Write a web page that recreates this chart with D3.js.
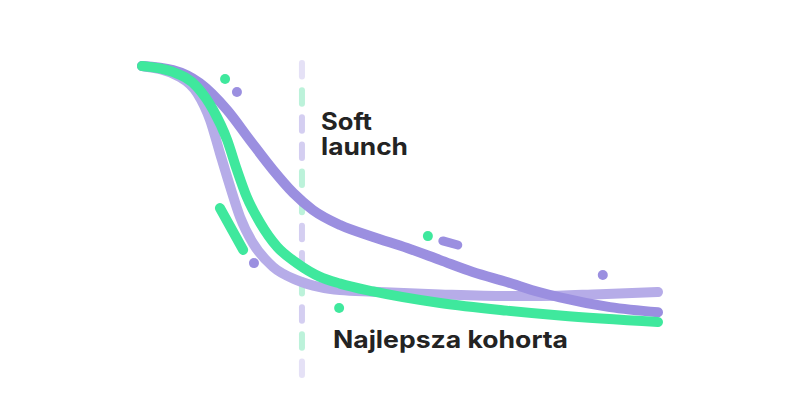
<!DOCTYPE html>
<html>
<head>
<meta charset="utf-8">
<script src="https://cdn.jsdelivr.net/npm/d3@7"></script>
<style>
  body { margin: 0; background: #fff; }
  svg { display: block; }
  text { font-family: Inter, "Open Sans", sans-serif; font-weight: 700; fill: #232323; }
</style>
</head>
<body>
<script>
// retention curves, x = time (0..100), y = retention %
let darkPurple = [[0,100],[6,98.5],[11.2,93.7],[16.5,83.7],[20.9,72.6],[25.4,61.5],[29.3,53],[33.1,46.7],[38.4,41.1],[44.8,36.7],[51.4,32.6],[57.8,28.1],[64.1,23.7],[70.7,20],[77.1,16.2],[81,14.3],[90.7,10.7],[100,8.8]]
let lightPurple = [[0,100],[7.4,95.9],[10.7,90],[13.2,80],[15.1,67.8],[17.1,55.2],[19,44.1],[21.5,34.4],[25.4,25.6],[30,20.7],[34.5,18.1],[38.4,17],[44.8,16.4],[57.8,15.4],[70.7,14.8],[77.1,14.8],[88.8,15.5],[100,16.3]]
let green = [[0,100],[6,97.8],[10.7,92.2],[13.8,83.7],[16.5,72.6],[18.4,61.5],[20.3,51.5],[22.9,41.9],[26.2,33],[30,27],[34.5,21.9],[38.4,19.4],[44.8,16.5],[57.8,12.2],[70.7,9.4],[81,7.6],[100,5.2]]

// soft launch marker
let launchX = 31
let dashColors = ["p","g","p","p","g","g","p","p","g","p","g","p"]

// decorative dots and short strokes
let dots = [
    {x:16.1, y:95.2, c:"g"},
    {x:18.4, y:90.4, c:"p"},
    {x:21.7, y:27, c:"p"},
    {x:55.4, y:37, c:"g"},
    {x:89.3, y:22.6, c:"p"},
    {x:38.2, y:10.4, c:"g"}
]
let strokes = [
    {x1:15.1, y1:47.4, x2:19.6, y2:31.9, c:"g"},
    {x1:58.3, y1:35.2, x2:61.2, y2:33.7, c:"p"}
]

let softLabel = ["Soft", "launch"]
let cohortLabel = "Najlepsza kohorta"

let width = 800, height = 420
let colors = {g:"#3fe89d", p:"#9b8fe0", lp:"#b6ace8"}
let dashFill = {g:"#bcf2da", p:"#d4cef1"}

let svg = d3.select("body").append("svg")
    .attr("width", width)
    .attr("height", height)

let scaleX = d3.scaleLinear().domain([0, 100]).range([142, 658])
let scaleY = d3.scaleLinear().domain([0, 100]).range([336, 66])

// przerywana linia pionowa
let scaleDash = d3.scaleBand()
    .domain(d3.range(dashColors.length))
    .range([60, 372])
    .paddingInner(0.5)
svg.append("g")
    .selectAll("line")
    .data(dashColors)
    .enter()
    .append("line")
    .attr("x1", scaleX(launchX))
    .attr("x2", scaleX(launchX))
    .attr("y1", (d, i) => scaleDash(i) + 3)
    .attr("y2", (d, i) => scaleDash(i) + scaleDash.bandwidth() + 3)
    .attr("stroke", d => dashFill[d])
    .attr("stroke-width", 6)
    .attr("stroke-linecap", "round")
    .attr("opacity", (d, i) => i == 0 || i == dashColors.length - 1 ? 0.6 : 1)

let line = d3.line()
    .x(d => scaleX(d[0]))
    .y(d => scaleY(d[1]))
    .curve(d3.curveMonotoneX)

function drawCurve(data, color) {
    svg.append("path")
        .datum(data)
        .attr("d", line)
        .attr("fill", "none")
        .attr("stroke", color)
        .attr("stroke-width", 10)
        .attr("stroke-linecap", "round")
}

drawCurve(lightPurple, colors.lp)
drawCurve(darkPurple, colors.p)
drawCurve(green, colors.g)

svg.selectAll(".dot")
    .data(dots)
    .enter()
    .append("circle")
    .attr("cx", d => scaleX(d.x))
    .attr("cy", d => scaleY(d.y))
    .attr("r", 5)
    .attr("fill", d => colors[d.c])

svg.selectAll(".stroke")
    .data(strokes)
    .enter()
    .append("line")
    .attr("x1", d => scaleX(d.x1))
    .attr("y1", d => scaleY(d.y1))
    .attr("x2", d => scaleX(d.x2))
    .attr("y2", d => scaleY(d.y2))
    .attr("stroke", d => colors[d.c])
    .attr("stroke-width", (d, i) => i == 0 ? 10 : 9)
    .attr("stroke-linecap", "round")

// napisy
let soft = svg.append("text")
    .attr("font-size", 24)
soft.selectAll("tspan")
    .data(softLabel)
    .enter()
    .append("tspan")
    .attr("x", 321)
    .attr("y", (d, i) => 130 + i * 25)
    .attr("textLength", (d, i) => i == 0 ? 51 : 87)
    .attr("lengthAdjust", "spacingAndGlyphs")
    .text(d => d)

svg.append("text")
    .attr("x", 333)
    .attr("y", 348)
    .attr("font-size", 24)
    .attr("textLength", 235)
    .attr("lengthAdjust", "spacingAndGlyphs")
    .text(cohortLabel)
</script>
</body>
</html>
